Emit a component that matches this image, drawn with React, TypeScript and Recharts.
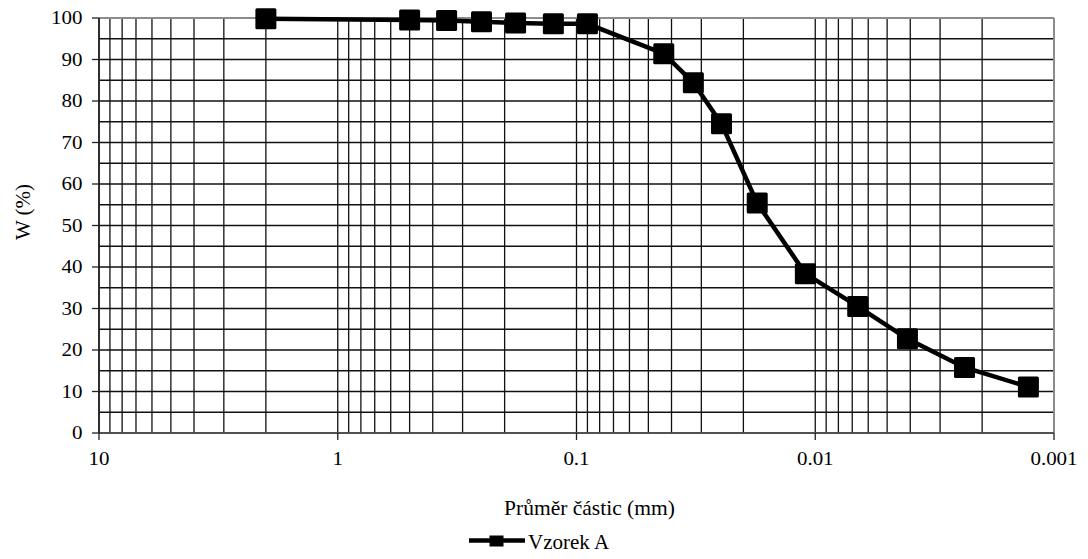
import React from 'react';
import { LineChart, Line, XAxis, YAxis, CartesianGrid, Legend } from 'recharts';

// Particle diameter (mm) and passing percentage W (%)
const particleSizes = [2, 0.5, 0.35, 0.25, 0.18, 0.125, 0.09, 0.0431, 0.0324, 0.0247, 0.0175, 0.011, 0.00664, 0.00411, 0.00237, 0.00128];
const passingPercent = [99.8, 99.5, 99.4, 99.1, 98.8, 98.6, 98.6, 91.4, 84.4, 74.5, 55.4, 38.4, 30.5, 22.7, 15.8, 11.1];

const xTicks = [10, 1, 0.1, 0.01, 0.001];
const xTickLabels = ['10', '1', '0.1', '0.01', '0.001'];
const yTicks = [0, 10, 20, 30, 40, 50, 60, 70, 80, 90, 100];
const yGridValues = [0, 5, 10, 15, 20, 25, 30, 35, 40, 45, 50, 55, 60, 65, 70, 75, 80, 85, 90, 95];
const xGridValues = [
  10, 9, 8, 7, 6, 5, 4, 3, 2,
  1, 0.9, 0.8, 0.7, 0.6, 0.5, 0.4, 0.3, 0.2,
  0.1, 0.09, 0.08, 0.07, 0.06, 0.05, 0.04, 0.03, 0.02,
  0.01, 0.009, 0.008, 0.007, 0.006, 0.005, 0.004, 0.003, 0.002,
];
const borderY = [100];
const borderX = [0.001];

const seriesName = 'Vzorek A';
const xAxisTitle = 'Průměr částic (mm)';
const yAxisTitle = 'W (%)';

const data = particleSizes.map((d, i) => ({ d, w: passingPercent[i] }));

const FONT = "'Liberation Serif', 'Times New Roman', Times, 'Nimbus Roman', 'Noto Serif', FreeSerif, 'DejaVu Serif', serif";
const textStyle = { fontFamily: FONT };

const XTick = (props: any) => {
  const { x, payload } = props;
  const i = xTicks.indexOf(payload.value);
  const label = i >= 0 ? xTickLabels[i] : String(payload.value);
  return (
    <text transform={`translate(${x} 464.5) scale(1 0.85)`} textAnchor="middle" style={textStyle} fontSize={21} fill="#000">
      {label}
    </text>
  );
};

const YTick = (props: any) => {
  const { y, payload } = props;
  return (
    <text transform={`translate(82.5 ${y + 6}) scale(1 0.85)`} textAnchor="end" style={textStyle} fontSize={21} fill="#000">
      {String(payload.value)}
    </text>
  );
};

const XTitle = () => (
  <text x={589.5} y={515} textAnchor="middle" style={textStyle} fontSize={21.5} fill="#000">
    {xAxisTitle}
  </text>
);

const YTitle = () => (
  <text transform="translate(29.5 212) rotate(-90)" textAnchor="middle" style={textStyle} fontSize={21} fill="#000">
    {yAxisTitle}
  </text>
);

const SquareDot = (props: any) => {
  const { cx, cy, index } = props;
  if (cx == null || cy == null) return <g key={`d${index}`} />;
  return <rect key={`d${index}`} x={cx - 10.5} y={cy - 10.5} width={21} height={21} rx={1.5} fill="#000" />;
};

const renderLegend = (props: any) => {
  const item = props.payload && props.payload[0];
  const name = item ? item.value : seriesName;
  return (
    <svg width={1088} height={30} style={{ display: 'block' }}>
      <line x1={469} x2={525} y1={11.5} y2={11.5} stroke="#000" strokeWidth={4.5} />
      <rect x={489.5} y={6.5} width={14} height={11} fill="#000" />
      <text x={528} y={20} style={textStyle} fontSize={21} fill="#000">
        {name}
      </text>
    </svg>
  );
};

export default function App() {
  return (
    <div style={{ position: 'absolute', left: 0, top: 0, width: 1088, height: 559, background: '#fff', fontFamily: FONT }}>
      <LineChart width={1088} height={559} data={data} margin={{ top: 18, right: 34, bottom: 0, left: 0 }}>
        <CartesianGrid
          horizontalValues={yGridValues}
          verticalValues={xGridValues}
          stroke="#111"
          strokeWidth={1.3}
        />
        <CartesianGrid
          horizontalValues={borderY}
          verticalValues={borderX}
          stroke="#8c8c8c"
          strokeWidth={2}
        />
        <XAxis
          dataKey="d"
          type="number"
          scale="log"
          domain={[0.001, 10]}
          allowDataOverflow
          reversed
          ticks={xTicks}
          interval={0}
          tick={XTick}
          tickSize={7}
          tickLine={{ stroke: '#222', strokeWidth: 1.3 }}
          axisLine={{ stroke: '#555', strokeWidth: 1.6 }}
          height={96}
          label={XTitle}
        />
        <YAxis
          type="number"
          domain={[0, 100]}
          ticks={yTicks}
          interval={0}
          tick={YTick}
          tickSize={7}
          tickLine={{ stroke: '#222', strokeWidth: 1.3 }}
          axisLine={{ stroke: '#222', strokeWidth: 1.6 }}
          width={99}
          label={YTitle}
        />
        <Legend
          verticalAlign="bottom"
          align="left"
          content={renderLegend}
          wrapperStyle={{ left: 0, width: 1088, height: 30 }}
        />
        <Line
          name={seriesName}
          dataKey="w"
          type="linear"
          stroke="#000"
          strokeWidth={4.5}
          dot={SquareDot}
          activeDot={false}
          isAnimationActive={false}
        />
      </LineChart>
    </div>
  );
}
